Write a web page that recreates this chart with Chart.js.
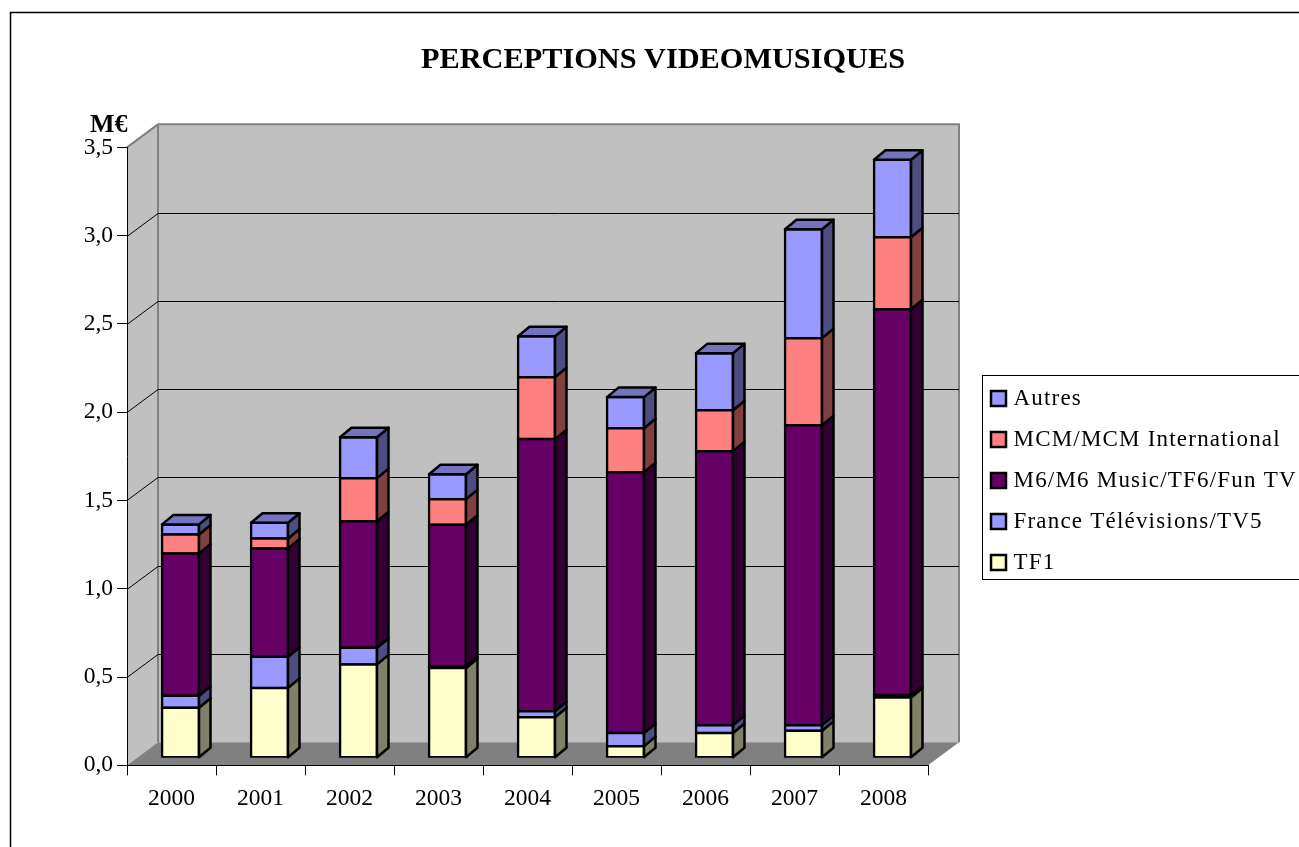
<!DOCTYPE html>
<html lang="fr">
<head>
  <meta charset="UTF-8">
  <title>Perceptions videomusiques</title>
  <script src="https://cdn.jsdelivr.net/npm/chart.js"></script>
  <style>
    html, body { margin: 0; padding: 0; background: #fff; overflow: hidden; }
    canvas { display: block; }
  </style>
</head>
<body>
  <canvas id="chart" width="1299" height="847"></canvas>
  <script>
    const years = ['2000', '2001', '2002', '2003', '2004', '2005', '2006', '2007', '2008'];
    const tf1 = [0.283, 0.396, 0.529, 0.508, 0.230, 0.066, 0.140, 0.153, 0.342];
    const franceTv = [0.068, 0.176, 0.094, 0.011, 0.034, 0.074, 0.045, 0.032, 0.013];
    const m6 = [0.806, 0.614, 0.717, 0.801, 1.541, 1.478, 1.552, 1.699, 2.186];
    const mcm = [0.108, 0.056, 0.244, 0.145, 0.351, 0.249, 0.232, 0.493, 0.407];
    const autres = [0.057, 0.089, 0.232, 0.141, 0.232, 0.176, 0.323, 0.617, 0.439];

    const WALL_DX = 31, WALL_DY = -23;
    const BAR_DX = 11.5, BAR_DY = -9.5;
    const BAR_SHIFT_X = 9, BAR_SHIFT_Y = -7.5;
    const EDGE = 2.5;
    const FONT = '"Liberation Serif"';

    function serie(label, data, color, side) {
      return { label, data, side, borderColor: '#000', borderWidth: EDGE,
        // segments thinner than the outline just read as a black line
        backgroundColor: c => c.raw < 0.02 ? '#000' : color,
        borderSkipped: false, inflateAmount: EDGE / 2, barThickness: 37 };
    }

    function quad(ctx, pts, fill, stroke, lw) {
      ctx.beginPath();
      pts.forEach((p, i) => i ? ctx.lineTo(p[0], p[1]) : ctx.moveTo(p[0], p[1]));
      ctx.closePath();
      if (fill) { ctx.fillStyle = fill; ctx.fill(); }
      if (stroke) { ctx.strokeStyle = stroke; ctx.lineWidth = lw; ctx.stroke(); }
    }

    // walls, floor, gridlines, frame and legend box
    const backdrop = {
      id: 'backdrop',
      beforeDraw(chart) {
        const ctx = chart.ctx, a = chart.chartArea, y = chart.scales.y;
        const L = a.left, R = a.right, T = a.top, B = a.bottom;
        ctx.save();
        ctx.lineJoin = 'miter';
        ctx.strokeStyle = '#000';
        ctx.lineWidth = 1.5;
        ctx.strokeRect(10.5, 12.5, 1400, 1000);
        quad(ctx, [[L, T], [L + WALL_DX, T + WALL_DY], [L + WALL_DX, B + WALL_DY], [L, B]], '#c0c0c0');
        quad(ctx, [[L + WALL_DX, T + WALL_DY], [R + WALL_DX, T + WALL_DY], [R + WALL_DX, B + WALL_DY], [L + WALL_DX, B + WALL_DY]], '#c0c0c0');
        quad(ctx, [[L, B], [L + WALL_DX, B + WALL_DY], [R + WALL_DX, B + WALL_DY], [R, B]], '#808080');
        ctx.strokeStyle = '#808080';
        ctx.lineWidth = 2;
        ctx.beginPath();
        ctx.moveTo(L, T);
        ctx.lineTo(L + WALL_DX, T + WALL_DY);
        ctx.lineTo(R + WALL_DX, T + WALL_DY);
        ctx.lineTo(R + WALL_DX, B + WALL_DY);
        ctx.moveTo(L + WALL_DX, T + WALL_DY);
        ctx.lineTo(L + WALL_DX, B + WALL_DY);
        ctx.stroke();
        ctx.strokeStyle = '#000';
        ctx.lineWidth = 1;
        y.ticks.forEach(t => {
          if (t.value <= 0 || t.value >= 3.5) return;
          const p = Math.round(y.getPixelForValue(t.value)) + 0.5;
          ctx.beginPath();
          ctx.moveTo(L, p);
          ctx.lineTo(L + WALL_DX, p + WALL_DY);
          ctx.lineTo(R + WALL_DX, p + WALL_DY);
          ctx.stroke();
        });
        ctx.strokeRect(982.5, 375.5, 400, 204);
        ctx.fillStyle = '#000';
        ctx.font = 'bold 26px ' + FONT;
        ctx.textAlign = 'left';
        ctx.textBaseline = 'middle';
        ctx.fillText('M€', 90, 125);
        ctx.restore();
      },
      beforeDatasetsDraw(chart) {
        chart.ctx.save();
        chart.ctx.translate(BAR_SHIFT_X, BAR_SHIFT_Y);
      },
      afterDatasetsDraw(chart) {
        const ctx = chart.ctx, last = chart.data.datasets.length - 1;
        ctx.lineJoin = 'round';
        chart.data.datasets.forEach((ds, i) => {
          chart.getDatasetMeta(i).data.forEach(bar => {
            const l = bar.x - bar.width / 2, r = bar.x + bar.width / 2, t = bar.y, b = bar.base;
            quad(ctx, [[r, t], [r + BAR_DX, t + BAR_DY], [r + BAR_DX, b + BAR_DY], [r, b]], ds.side, '#000', EDGE);
            if (i === last) {
              quad(ctx, [[l, t], [l + BAR_DX, t + BAR_DY], [r + BAR_DX, t + BAR_DY], [r, t]], '#7373bf', '#000', EDGE);
            }
          });
        });
        ctx.restore();
      },
      afterLayout(chart) {
        const lg = chart.legend, tb = chart.titleBlock, ctx = chart.ctx;
        lg.left = 995 - lg.options.labels.padding;
        lg.right = 1299;
        lg.top = 369;
        lg.bottom = 600;
        tb.left = 27;
        tb.right = 1299;
        if (!lg.spaced) {
          const draw = lg.draw;
          lg.draw = function (area) {
            ctx.letterSpacing = '1.2px';
            draw.call(this, area);
            ctx.letterSpacing = '0px';
          };
          lg.spaced = true;
        }
      }
    };

    new Chart(document.getElementById('chart'), {
      type: 'bar',
      data: {
        labels: years,
        datasets: [
          serie('TF1', tf1, '#ffffcc', '#808066'),
          serie('France Télévisions/TV5', franceTv, '#9999ff', '#4d4d80'),
          serie('M6/M6 Music/TF6/Fun TV', m6, '#660066', '#330033'),
          serie('MCM/MCM International', mcm, '#ff8080', '#804040'),
          serie('Autres', autres, '#9999ff', '#4d4d80')
        ]
      },
      options: {
        responsive: false,
        animation: false,
        layout: { autoPadding: false, padding: { left: 0, right: 371, top: 0, bottom: 0 } },
        plugins: {
          tooltip: { enabled: false },
          title: {
            display: true,
            text: 'PERCEPTIONS VIDEOMUSIQUES',
            color: '#000',
            font: { family: FONT, size: 30.3, weight: 'bold', lineHeight: 1.2 },
            padding: { top: 42, bottom: 69 }
          },
          legend: {
            position: 'chartArea',
            align: 'start',
            reverse: true,
            labels: {
              color: '#000',
              font: { family: FONT, size: 23 },
              usePointStyle: true,
              pointStyle: 'rect',
              boxWidth: 7,
              boxHeight: 15,
              padding: 18
            }
          }
        },
        scales: {
          x: {
            stacked: true,
            afterFit(s) { s.height = 81.7; },
            grid: { drawOnChartArea: false, color: '#000', tickLength: 10 },
            border: { color: '#000' },
            ticks: { color: '#000', font: { family: FONT, size: 23.5 }, padding: 9, maxRotation: 0 }
          },
          y: {
            stacked: true,
            min: 0,
            max: 3.5,
            afterFit(s) { s.width = 127; },
            grid: { drawOnChartArea: false, color: '#000', tickLength: 10 },
            border: { color: '#000' },
            ticks: {
              stepSize: 0.5,
              color: '#000',
              font: { family: FONT, size: 23.5 },
              padding: 4,
              callback: v => v.toFixed(1).replace('.', ',')
            }
          }
        }
      },
      plugins: [backdrop]
    });
  </script>
</body>
</html>
